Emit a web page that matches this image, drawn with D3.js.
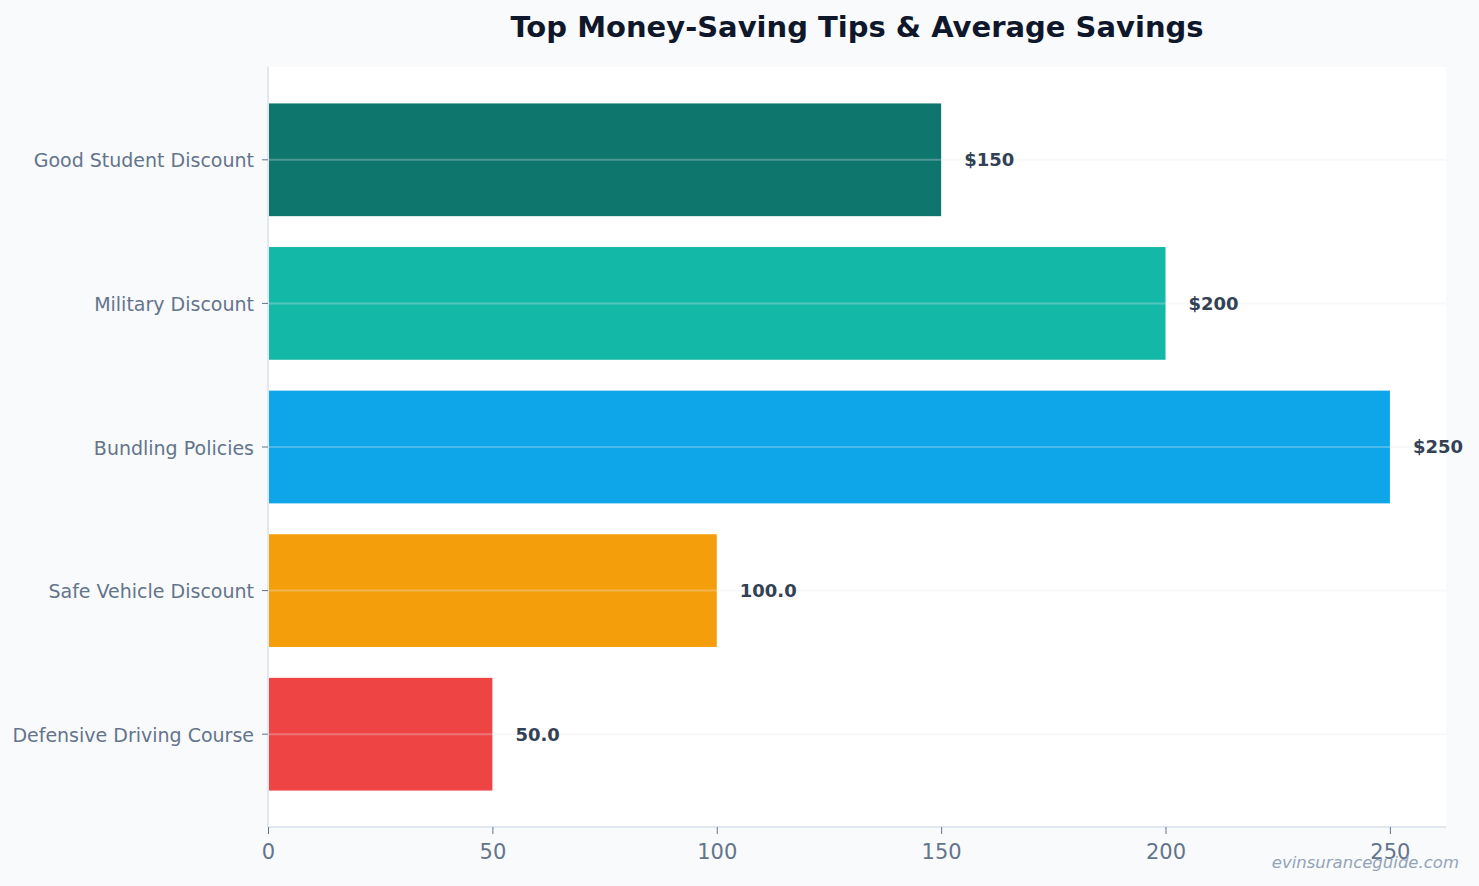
<!DOCTYPE html>
<html>
<head>
  <title>Top Money-Saving Tips</title>
  <script src="https://d3js.org/d3.v7.min.js"></script>
  <style>
    body {
      margin: 0;
      background-color: #f8fafc;
      font-family: "DejaVu Sans", sans-serif;
      overflow: hidden;
    }
    .y-axis text, .x-axis text {
      fill: #64748b;
    }
  </style>
</head>
<body>
  <svg id="chart" width="1479" height="886"></svg>

  <script>
    // ----------- DATA -----------------------------------
    const tips = ["Good Student Discount", "Military Discount", "Bundling Policies", "Safe Vehicle Discount", "Defensive Driving Course"];
    const savings = [150, 200, 250, 100, 50];
    const valueLabels = ["$150", "$200", "$250", "100.0", "50.0"];
    const barColors = ["#0f766e", "#14b8a6", "#0ea5e9", "#f59e0b", "#ef4444"];
    const xTicks = [0, 50, 100, 150, 200, 250];

    const width = 1479, height = 886;
    const margin = { top: 67, right: 33, bottom: 59, left: 268 };
    const plotW = width - margin.left - margin.right;
    const plotH = height - margin.top - margin.bottom;

    const svg = d3.select("#chart");

    // title
    svg.append("text")
      .attr("x", margin.left + plotW / 2)
      .attr("y", 37)
      .attr("text-anchor", "middle")
      .attr("font-size", "29px")
      .attr("font-weight", "bold")
      .attr("fill", "#0f172a")
      .text("Top Money-Saving Tips & Average Savings");

    const g = svg.append("g")
      .attr("transform", `translate(${margin.left},${margin.top})`);

    // white plot background
    g.append("rect")
      .attr("width", plotW)
      .attr("height", plotH)
      .attr("fill", "#ffffff");

    const x = d3.scaleLinear()
      .domain([0, 262.5])
      .range([0, plotW]);

    // bands leave ~21px of padding top and bottom
    const y = d3.scaleBand()
      .domain(tips)
      .range([21, plotH - 21])
      .paddingInner(0.215)
      .paddingOuter(0.1075);

    // bars
    g.selectAll(".bar")
      .data(tips)
      .join("rect")
      .attr("class", "bar")
      .attr("x", x(0))
      .attr("y", d => y(d))
      .attr("width", (d, i) => x(savings[i]) - x(0))
      .attr("height", y.bandwidth())
      .attr("fill", (d, i) => barColors[i]);

    // gridlines through category centers, over the bars
    g.selectAll(".grid")
      .data(tips)
      .join("line")
      .attr("class", "grid")
      .attr("x1", 0)
      .attr("x2", plotW)
      .attr("y1", d => y(d) + y.bandwidth() / 2)
      .attr("y2", d => y(d) + y.bandwidth() / 2)
      .attr("stroke", "#e2e8f0")
      .attr("stroke-opacity", 0.3)
      .attr("stroke-width", 2);

    // value labels
    g.selectAll(".value")
      .data(tips)
      .join("text")
      .attr("class", "value")
      .attr("x", (d, i) => x(savings[i]) + 23)
      .attr("y", d => y(d) + y.bandwidth() / 2)
      .attr("dy", ".35em")
      .attr("font-size", "18px")
      .attr("font-weight", "bold")
      .attr("fill", "#334155")
      .text((d, i) => valueLabels[i]);

    // axes
    const yAxis = g.append("g")
      .attr("class", "y-axis")
      .call(d3.axisLeft(y).tickSize(6).tickPadding(8));
    yAxis.attr("font-family", "DejaVu Sans");
    yAxis.selectAll("text").attr("font-size", "19px").attr("dy", "0.4em");
    yAxis.selectAll(".tick line").attr("stroke", "#64748b");
    yAxis.select(".domain").attr("stroke", "#e2e8f0").attr("stroke-width", 2)
      .attr("d", `M0,0V${plotH}`);

    const xAxis = g.append("g")
      .attr("class", "x-axis")
      .attr("transform", `translate(0,${plotH})`)
      .call(d3.axisBottom(x).tickValues(xTicks).tickSize(7).tickPadding(10));
    xAxis.attr("font-family", "DejaVu Sans");
    xAxis.selectAll("text").attr("font-size", "21px");
    xAxis.selectAll(".tick line").attr("stroke", "#64748b");
    xAxis.select(".domain").attr("stroke", "#e2e8f0").attr("stroke-width", 2)
      .attr("d", `M0,0H${plotW}`);

    // watermark
    svg.append("text")
      .attr("x", 1459)
      .attr("y", 868)
      .attr("text-anchor", "end")
      .attr("font-size", "16.5px")
      .attr("font-style", "italic")
      .attr("fill", "#94a3b8")
      .text("evinsuranceguide.com");
  </script>
</body>
</html>
